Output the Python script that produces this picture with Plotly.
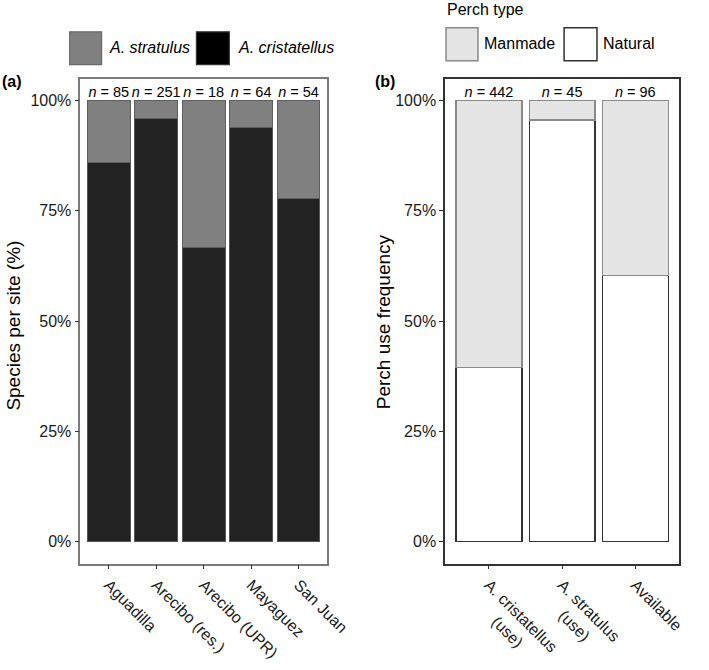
import plotly.graph_objects as go

# ---- data ----
sites = ["Aguadilla", "Arecibo (res.)", "Arecibo (UPR)", "Mayaguez", "San Juan"]
site_n = [85, 251, 18, 64, 54]
cristatellus_frac = [0.859, 0.960, 0.667, 0.938, 0.778]
stratulus_frac = [0.141, 0.040, 0.333, 0.062, 0.222]

perch_groups = ["A. cristatellus (use)", "A. stratulus (use)", "Available"]
perch_ticktext = ["A. cristatellus<br>" + "&nbsp;" * 7 + "(use)",
                  "A. stratulus<br>" + "&nbsp;" * 5 + "(use)",
                  "Available"]
perch_n = [442, 45, 96]
natural_frac = [0.394, 0.956, 0.604]
manmade_frac = [0.606, 0.044, 0.396]

yticks = [0, 0.25, 0.5, 0.75, 1.0]
yticktext = ["0%", "25%", "50%", "75%", "100%"]

W, H = 709, 670
FONT = "Liberation Sans, Arial, sans-serif"

def px(x):
    return x / W

def py(y):
    return 1 - y / H

fig = go.Figure()

# Panel (a)
fig.add_trace(go.Bar(x=sites, y=cristatellus_frac, name="A. cristatellus",
                     marker=dict(color="#222222", line=dict(color="#555555", width=1)),
                     width=0.9, xaxis="x", yaxis="y", showlegend=False))
fig.add_trace(go.Bar(x=sites, y=stratulus_frac, name="A. stratulus",
                     marker=dict(color="#808080", line=dict(color="#5e5e5e", width=1)),
                     width=0.9, xaxis="x", yaxis="y", showlegend=False))
fig.add_trace(go.Scatter(x=sites, y=[1.0] * len(sites), mode="text",
                         text=[f"<i>n</i> = {v}" for v in site_n],
                         textposition="top center",
                         textfont=dict(size=14.5, color="#000000", family=FONT),
                         xaxis="x", yaxis="y", showlegend=False, hoverinfo="skip"))

# Panel (b)
fig.add_trace(go.Bar(x=perch_groups, y=natural_frac, name="Natural",
                     marker=dict(color="#ffffff", line=dict(color="#333333", width=1.2)),
                     width=0.9, xaxis="x2", yaxis="y2", showlegend=False))
fig.add_trace(go.Bar(x=perch_groups, y=manmade_frac, name="Manmade",
                     marker=dict(color="#e5e5e5", line=dict(color="#8a8a8a", width=1.2)),
                     width=0.9, xaxis="x2", yaxis="y2", showlegend=False))
fig.add_trace(go.Scatter(x=perch_groups, y=[1.0] * len(perch_groups), mode="text",
                         text=[f"<i>n</i> = {v}" for v in perch_n],
                         textposition="top center",
                         textfont=dict(size=14.5, color="#000000", family=FONT),
                         xaxis="x2", yaxis="y2", showlegend=False, hoverinfo="skip"))

ydom = [py(567), py(79)]

common_x = dict(type="category", tickangle=45, ticks="outside", ticklen=4, tickwidth=1,
                tickcolor="#333333", showgrid=False, zeroline=False, showline=True,
                mirror=True, tickfont=dict(size=16, color="#1a1a1a", family=FONT))
common_y = dict(range=[-0.05, 1.05], tickvals=yticks, ticktext=yticktext,
                ticks="outside", ticklen=4, tickwidth=1, tickcolor="#333333",
                showgrid=False, zeroline=False, showline=True, mirror=True,
                tickfont=dict(size=16, color="#1a1a1a", family=FONT))

fig.update_layout(
    width=W, height=H,
    margin=dict(l=0, r=0, t=0, b=0),
    paper_bgcolor="white", plot_bgcolor="white",
    barmode="stack", showlegend=False,
    font=dict(family=FONT, color="#000000"),
    xaxis=dict(domain=[px(83), px(338)], range=[-0.6, 4.6], anchor="y",
               linecolor="#7a7a7a", linewidth=1.5, **common_x),
    yaxis=dict(domain=ydom, anchor="x", linecolor="#7a7a7a", linewidth=1.5, **common_y),
    xaxis2=dict(domain=[px(460), px(702)], range=[-0.6, 2.6], anchor="y2",
                tickvals=perch_groups, ticktext=perch_ticktext,
                linecolor="#333333", linewidth=1.5, **common_x),
    yaxis2=dict(domain=ydom, anchor="x2", linecolor="#333333", linewidth=1.5, **common_y),
)

shapes = []
annots = []

# Legend (a)
shapes.append(dict(type="rect", xref="paper", yref="paper",
                   x0=px(72), x1=px(105), y0=py(65), y1=py(32),
                   fillcolor="#808080", line=dict(color="#6a6a6a", width=1.2)))
shapes.append(dict(type="rect", xref="paper", yref="paper",
                   x0=px(203), x1=px(237), y0=py(65), y1=py(32),
                   fillcolor="#000000", line=dict(color="#333333", width=1.2)))
annots.append(dict(xref="paper", yref="paper", x=px(111), y=py(48), xanchor="left",
                   yanchor="middle", showarrow=False, text="<i>A. stratulus</i>",
                   font=dict(size=16, family=FONT, color="#000")))
annots.append(dict(xref="paper", yref="paper", x=px(244), y=py(48), xanchor="left",
                   yanchor="middle", showarrow=False, text="<i>A. cristatellus</i>",
                   font=dict(size=16, family=FONT, color="#000")))

# Legend (b)
annots.append(dict(xref="paper", yref="paper", x=px(460), y=py(10), xanchor="left",
                   yanchor="middle", showarrow=False, text="Perch type",
                   font=dict(size=16, family=FONT, color="#000")))
shapes.append(dict(type="rect", xref="paper", yref="paper",
                   x0=px(461), x1=px(494), y0=py(61), y1=py(28),
                   fillcolor="#e5e5e5", line=dict(color="#8a8a8a", width=1.5)))
shapes.append(dict(type="rect", xref="paper", yref="paper",
                   x0=px(583), x1=px(617), y0=py(61), y1=py(28),
                   fillcolor="#ffffff", line=dict(color="#333333", width=1.5)))
annots.append(dict(xref="paper", yref="paper", x=px(498), y=py(44), xanchor="left",
                   yanchor="middle", showarrow=False, text="Manmade",
                   font=dict(size=16, family=FONT, color="#000")))
annots.append(dict(xref="paper", yref="paper", x=px(621), y=py(44), xanchor="left",
                   yanchor="middle", showarrow=False, text="Natural",
                   font=dict(size=16, family=FONT, color="#000")))

# Panel tags
annots.append(dict(xref="paper", yref="paper", x=px(0), y=py(82), xanchor="left",
                   yanchor="middle", showarrow=False, text="<b>(a)</b>",
                   font=dict(size=16, family=FONT, color="#000")))
annots.append(dict(xref="paper", yref="paper", x=px(385), y=py(82), xanchor="left",
                   yanchor="middle", showarrow=False, text="<b>(b)</b>",
                   font=dict(size=16, family=FONT, color="#000")))

# Axis titles
annots.append(dict(xref="paper", yref="paper", x=px(13), y=py(328), xanchor="center",
                   yanchor="middle", showarrow=False, text="Species per site (%)",
                   textangle=-90, font=dict(size=19, family=FONT, color="#000")))
annots.append(dict(xref="paper", yref="paper", x=px(396), y=py(324), xanchor="center",
                   yanchor="middle", showarrow=False, text="Perch use frequency",
                   textangle=-90, font=dict(size=19, family=FONT, color="#000")))

fig.update_layout(shapes=shapes, annotations=annots)

fig.write_html("out.html", config={"displayModeBar": False},
               post_script="document.body.style.margin='0';document.body.style.padding='0';")
